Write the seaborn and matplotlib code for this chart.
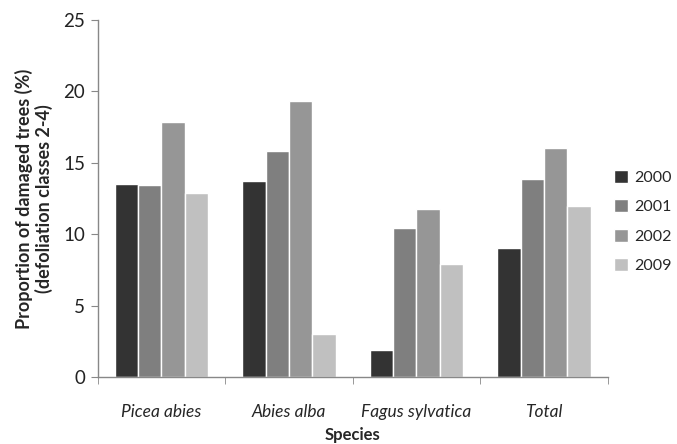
import pandas as pd
import matplotlib.pyplot as plt
import seaborn as sns

species = ["Picea abies", "Abies alba", "Fagus sylvatica", "Total"]
years = ["2000", "2001", "2002", "2009"]
v2000 = [13.55, 13.76, 1.89, 9.05]
v2001 = [13.46, 15.82, 10.43, 13.88]
v2002 = [17.87, 19.36, 11.76, 16.05]
v2009 = [12.88, 3.0, 7.95, 12.01]
colores = ["#333333", "#7f7f7f", "#969696", "#c0c0c0"]

rows = []
for y, vals in zip(years, [v2000, v2001, v2002, v2009]):
    for s, v in zip(species, vals):
        rows.append({"Species": s, "Year": y, "Value": v})
df = pd.DataFrame(rows)

sns.set_style("white")
plt.rcParams["font.family"] = ["Lato", "DejaVu Sans"]

fig = plt.figure(figsize=(6.77, 4.44), dpi=100)
ax = fig.add_axes([0.1443, 0.1502, 0.7534, 0.8048])

sns.barplot(data=df, x="Species", y="Value", hue="Year", order=species,
            hue_order=years, palette=colores, saturation=1, width=0.73,
            ax=ax, legend=True)

ax.set_ylim(0, 25)
ax.set_xlim(-0.5, 3.5)
ax.set_yticks([0, 5, 10, 15, 20, 25])
ax.tick_params(axis="y", labelsize=13.5, length=5, color="#888888", left=True,
               labelcolor="#222222", pad=4)
ax.tick_params(axis="x", which="major", length=0, labelsize=12.5, pad=19)
ax.set_xticks([-0.5, 0.5, 1.5, 2.5, 3.5], minor=True)
ax.tick_params(axis="x", which="minor", length=5, color="#888888", bottom=True)
for lbl in ax.get_xticklabels():
    lbl.set_fontstyle("italic")

for side in ["top", "right"]:
    ax.spines[side].set_visible(False)
for side in ["left", "bottom"]:
    ax.spines[side].set_color("#888888")
    ax.spines[side].set_linewidth(1)

ax.set_xlabel("Species", fontsize=12, fontweight="bold", labelpad=5)
ax.set_ylabel("Proportion of damaged trees (%)\n(defoliation classes 2-4)",
              fontsize=13, fontweight="bold", labelpad=7, linespacing=1.15)

# legend in the reference runs into the right edge; keep it just inside here
leg = ax.legend(loc="upper left", bbox_to_anchor=(0.907, 0.618),
                bbox_transform=fig.transFigure, frameon=False, fontsize=11.5,
                handlelength=0.9, handleheight=0.9, handletextpad=0.35,
                labelspacing=0.9, borderaxespad=0, borderpad=0)

fig.savefig("out.png", dpi=100)
